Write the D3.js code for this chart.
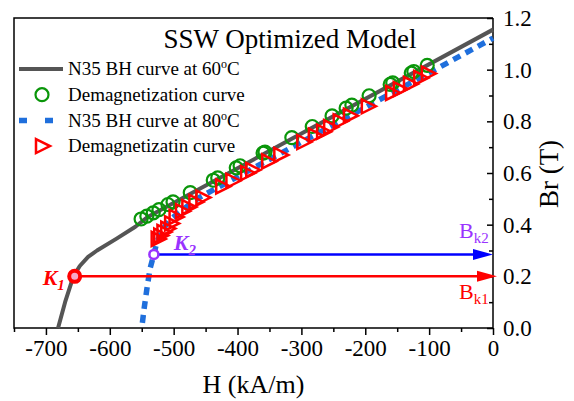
<!DOCTYPE html>
<html>
<head>
<meta charset="utf-8">
<script src="https://cdn.jsdelivr.net/npm/d3@7"></script>
<style>
  body { margin: 0; background: #fff; }
  text { font-family: "Liberation Serif", "Times New Roman", serif; }
</style>
</head>
<body>
<svg width="574" height="401"></svg>
<script>
// N35 BH curve at 60oC  [H (kA/m), Br (T)]
var bh60 = [[-681, 0.0], [-670, 0.1], [-657, 0.2], [-647, 0.24], [-634, 0.275], [-620, 0.30],
            [-590, 0.345], [-560, 0.392], [-540, 0.431], [0, 1.155]];
// N35 BH curve at 80oC
var bh80 = [[-549, 0.02], [-546, 0.08], [-542, 0.15], [-537, 0.23], [-531, 0.285], [-526, 0.335],
            [-518, 0.38], [-505, 0.42], [-485, 0.46], [-460, 0.505], [0, 1.122]];
// demagnetization points at 60oC
var demag60 = [[-551, 0.422], [-542, 0.433], [-532, 0.446], [-523, 0.458], [-509, 0.478], [-501, 0.488],
               [-474, 0.524], [-438, 0.572], [-431, 0.581], [-402, 0.620], [-396, 0.628], [-360, 0.677],
               [-357, 0.681], [-315, 0.737], [-283, 0.780], [-252, 0.821], [-230, 0.851], [-221, 0.863],
               [-194, 0.899], [-161, 0.943], [-157, 0.949], [-128, 0.987], [-124, 0.993], [-103, 1.017]];
// demagnetization points at 80oC
var demag80 = [[-525, 0.345], [-521, 0.358], [-516, 0.372], [-510, 0.385], [-504, 0.405], [-497, 0.43],
               [-487, 0.452], [-477, 0.468], [-466, 0.488], [-455, 0.505], [-424, 0.548], [-408, 0.570],
               [-385, 0.600], [-377, 0.612], [-352, 0.645], [-333, 0.670], [-297, 0.720], [-279, 0.745],
               [-266, 0.760], [-255, 0.778], [-240, 0.800], [-224, 0.822], [-196, 0.858], [-158, 0.910],
               [-146, 0.925], [-130, 0.945], [-114, 0.968], [-102, 0.985]];
var k1 = [-655, 0.2];
var k2 = [-531, 0.285];
var xTicks = [-700, -600, -500, -400, -300, -200, -100, 0];
var xMinor = [-750, -650, -550, -450, -350, -250, -150, -50];
var yTicks = [0, 0.2, 0.4, 0.6, 0.8, 1.0, 1.2];
var yMinor = [0.1, 0.3, 0.5, 0.7, 0.9, 1.1];
var legendItems = ["N35 BH curve at 60", "Demagnetization curve", "N35 BH curve at 80", "Demagnetizatin curve"];

var svg = d3.select("svg");
var pLeft = 14, pRight = 493, pTop = 18, pBottom = 328;
var serif = "Liberation Serif, Times New Roman, serif";

var x = d3.scaleLinear().domain([-750, 0]).range([pLeft, pRight]);
var y = d3.scaleLinear().domain([0, 1.2]).range([pBottom, pTop]);

var green = "#0a960a", red = "#ff0000", blue = "#1f6fdc", purple = "#9933ff", gray = "#555555";

// frame
svg.append("path")
    .attr("d", "M" + pRight + "," + pTop + "H" + pLeft + "V" + pBottom + "H" + pRight + "V" + pTop)
    .attr("fill", "none").attr("stroke", "#000").attr("stroke-width", 1.5);

// x axis
var xAxis = svg.append("g").attr("transform", "translate(0," + pBottom + ")")
    .call(d3.axisBottom(x).tickValues(xTicks).tickSize(7).tickPadding(5)
      .tickFormat(function(d) { return String(d); }));
svg.append("g").attr("transform", "translate(0," + pBottom + ")")
    .call(d3.axisBottom(x).tickValues(xMinor).tickSize(4).tickFormat(""));
// y axis (right, ticks pointing in)
var yAxis = svg.append("g").attr("transform", "translate(" + pRight + ",0)")
    .call(d3.axisRight(y).tickValues(yTicks).tickSize(-6).tickPadding(10)
      .tickFormat(function(d) { return d.toFixed(1); }));
svg.append("g").attr("transform", "translate(" + pRight + ",0)")
    .call(d3.axisRight(y).tickValues(yMinor).tickSize(-4).tickFormat(""));

svg.selectAll(".domain").remove();
svg.selectAll("g").attr("font-family", serif);
svg.selectAll(".tick line").attr("stroke", "#000").attr("stroke-width", 1.5);
svg.selectAll(".tick text").attr("font-family", serif).attr("font-size", 23).attr("fill", "#000");

svg.append("text").attr("x", (pLeft + pRight) / 2).attr("y", 393)
    .attr("text-anchor", "middle").attr("font-size", 26).text("H (kA/m)");
svg.append("text").attr("transform", "translate(558,174)rotate(-90)")
    .attr("text-anchor", "middle").attr("font-size", 27).text("Br (T)");

// title
svg.append("text").attr("x", 290).attr("y", 48)
    .attr("text-anchor", "middle").attr("font-size", 27).text("SSW Optimized Model");

var line = d3.line().x(function(d) { return x(d[0]); }).y(function(d) { return y(d[1]); });

svg.append("path").datum(bh60).attr("d", line)
    .attr("fill", "none").attr("stroke", gray).attr("stroke-width", 4).attr("stroke-linejoin", "round");
svg.append("path").datum(bh80).attr("d", line)
    .attr("fill", "none").attr("stroke", blue).attr("stroke-width", 5.5).attr("stroke-dasharray", "8 6");

// markers
svg.append("g").selectAll("circle").data(demag60).enter().append("circle")
    .attr("cx", function(d) { return x(d[0]); })
    .attr("cy", function(d) { return y(d[1]); })
    .attr("r", 6.5).attr("fill", "none").attr("stroke", green).attr("stroke-width", 2.2);

var tri = "M-6,-7L8,0L-6,7Z";
svg.append("g").selectAll("path").data(demag80).enter().append("path")
    .attr("transform", function(d) { return "translate(" + x(d[0]) + "," + y(d[1]) + ")"; })
    .attr("d", tri).attr("fill", "none").attr("stroke", red).attr("stroke-width", 2.5);

// arrows
function arrow(p, color, xEnd) {
  var yy = y(p[1]);
  svg.append("line").attr("x1", x(p[0])).attr("x2", xEnd - 10).attr("y1", yy).attr("y2", yy)
      .attr("stroke", color).attr("stroke-width", 2.5);
  svg.append("path").attr("d", "M" + (xEnd - 20) + "," + (yy - 5.5) + "L" + xEnd + "," + yy + "L" + (xEnd - 20) + "," + (yy + 5.5) + "Z")
      .attr("fill", color);
}
arrow(k1, red, pRight + 4);
arrow(k2, "#0000ff", pRight);

// K points
svg.append("circle").attr("cx", x(k1[0])).attr("cy", y(k1[1])).attr("r", 5.5)
    .attr("fill", "#f7a8c8").attr("stroke", red).attr("stroke-width", 4);
svg.append("circle").attr("cx", x(k2[0])).attr("cy", y(k2[1])).attr("r", 4.5)
    .attr("fill", "#fff").attr("stroke", purple).attr("stroke-width", 2.5);

function kLabel(px, py, sub, color) {
  var t = svg.append("text").attr("x", px).attr("y", py).attr("fill", color)
      .attr("font-size", 22).attr("font-style", "italic").attr("font-weight", "bold");
  t.append("tspan").text("K");
  t.append("tspan").attr("font-size", 15).attr("dy", 5).text(sub);
}
kLabel(x(k1[0]) - 32, y(k1[1]) + 9, "1", red);
kLabel(x(k2[0]) + 20, y(k2[1]) - 4, "2", purple);

function bLabel(px, py, sub, color) {
  var t = svg.append("text").attr("x", px).attr("y", py).attr("fill", color).attr("font-size", 22);
  t.append("tspan").text("B");
  t.append("tspan").attr("font-size", 15).attr("dy", 5).text(sub);
}
bLabel(459, y(k2[1]) - 16, "k2", purple);
bLabel(459, y(k1[1]) + 23, "k1", red);

// legend
var leg = svg.append("g").selectAll("g").data(legendItems).enter().append("g")
    .attr("transform", function(d, i) { return "translate(0," + (69 + i * 25.7) + ")"; });
leg.append("text").attr("x", 68).attr("dy", "0.33em").attr("font-size", 19)
    .each(function(d, i) {
      var t = d3.select(this);
      t.append("tspan").text(d);
      if (i === 0 || i === 2) {
        t.append("tspan").attr("font-size", 12).attr("dy", -7).text("o");
        t.append("tspan").attr("dy", 7).text("C");
      }
    });
leg.filter(function(d, i) { return i === 0; }).append("line")
    .attr("x1", 19).attr("x2", 63).attr("stroke", gray).attr("stroke-width", 4);
leg.filter(function(d, i) { return i === 1; }).append("circle")
    .attr("cx", 42).attr("r", 6.5).attr("fill", "none").attr("stroke", green).attr("stroke-width", 2.2);
leg.filter(function(d, i) { return i === 2; }).append("line")
    .attr("x1", 19).attr("x2", 63).attr("stroke", blue).attr("stroke-width", 5.5).attr("stroke-dasharray", "8 18");
leg.filter(function(d, i) { return i === 3; }).append("path")
    .attr("transform", "translate(42,0)").attr("d", tri)
    .attr("fill", "none").attr("stroke", red).attr("stroke-width", 2.5);
</script>
</body>
</html>
